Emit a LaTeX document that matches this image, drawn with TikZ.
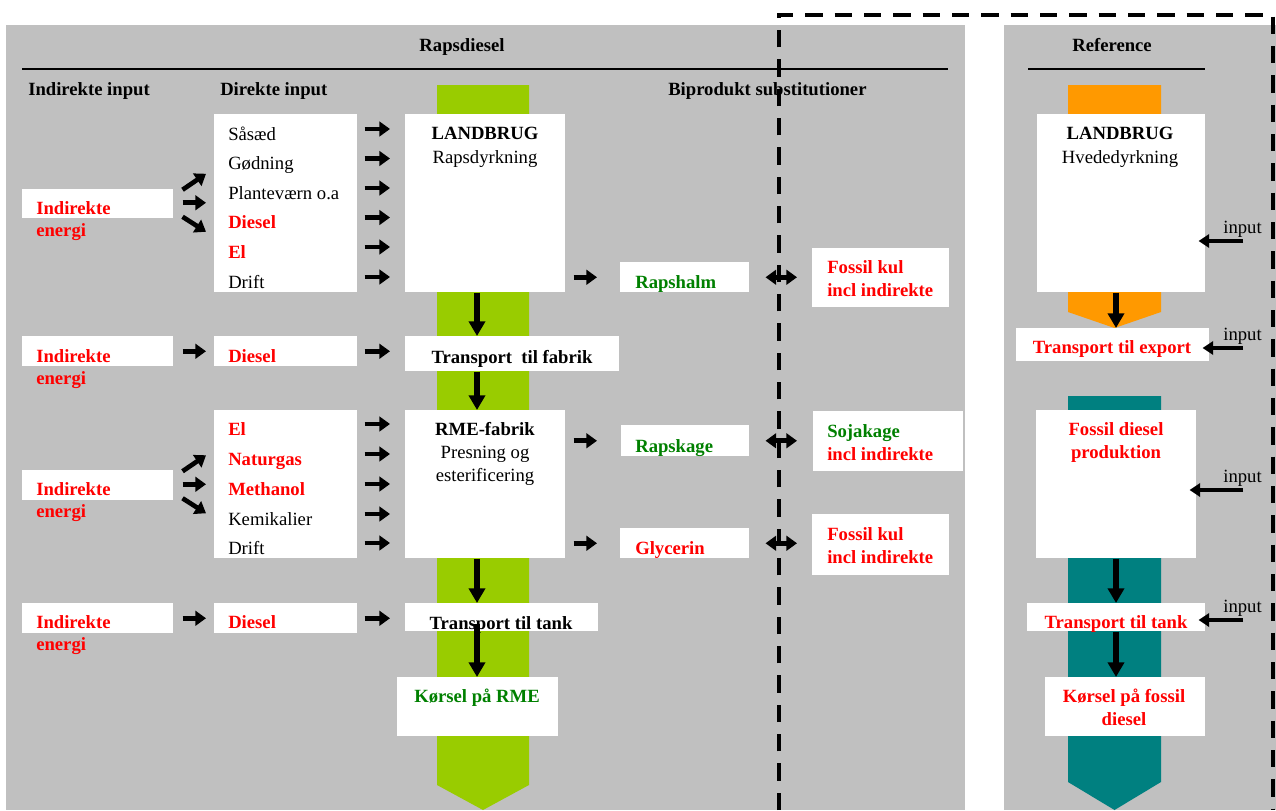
\documentclass[tikz,border=0pt]{standalone}
\usepackage{fontspec}
\setmainfont{Liberation Serif}
\usepackage{tikz}
\usetikzlibrary{arrows.meta, calc}
\definecolor{panelgray}{HTML}{C0C0C0}
\definecolor{rapsgreen}{HTML}{99CC00}
\definecolor{refsorange}{HTML}{FF9900}
\definecolor{fossilteal}{HTML}{008080}
\definecolor{txtgreen}{HTML}{008000}
\definecolor{txtred}{HTML}{FF0000}

\begin{document}
\begin{tikzpicture}[x=0.75pt, y=-0.75pt,
    box/.style={fill=white, inner sep=0pt, anchor=north west},
    txt/.style={inner sep=0pt, anchor=base west, font=\fontsize{14}{17}\selectfont},
    btxt/.style={txt, font=\fontsize{14}{17}\selectfont\bfseries},
    redtxt/.style={btxt, text=txtred},
    grntxt/.style={btxt, text=txtgreen},
    arr/.style={-{Triangle[length=8pt, width=11pt]}, line width=3.5pt},
    darr/.style={{Triangle[length=8pt, width=11pt]}-{Triangle[length=8pt, width=11pt]}, line width=3.5pt},
    varr/.style={-{Triangle[length=11pt, width=12pt]}, line width=4pt},
    inarr/.style={-{Triangle[length=8pt, width=10pt]}, line width=3pt}]
    \useasboundingbox (0,0) rectangle (1276,810);

    % Panels and flow bands
    \fill[panelgray] (6,25) rectangle (965,810);
    \fill[panelgray] (1004,25) rectangle (1276,810);
    \fill[rapsgreen] (437,85) -- (529,85) -- (529,785) -- (483,810) -- (437,785) -- cycle;
    \fill[refsorange] (1068,85) -- (1161,85) -- (1161,312) -- (1114.5,328) -- (1068,312) -- cycle;
    \fill[fossilteal] (1068,396) -- (1161,396) -- (1161,782) -- (1114.5,810) -- (1068,782) -- cycle;

    % Headings
    \node[btxt, anchor=base] (rapsdiesel) at (462,51) {Rapsdiesel};
    \node[btxt, anchor=base] (reference) at (1112,51) {Reference};
    \draw[line width=1pt] (22,69) -- (948,69);
    \draw[line width=1pt] (1028,69) -- (1205,69);
    \node[btxt] (hindirekte) at (28,95) {Indirekte input};
    \node[btxt] (hdirekte) at (220,95) {Direkte input};
    \node[btxt] (hbiprodukt) at (668,95) {Biprodukt substitutioner};

    % Boxes
    \node[box, minimum width=107.25pt, minimum height=133.5pt] (direkte1) at (214,114) {};
    \node[box, minimum width=120pt, minimum height=133.5pt] (landbrug) at (405,114) {};
    \node[box, minimum width=113.25pt, minimum height=21.75pt] (indirekte1) at (22,189) {};
    \node[box, minimum width=96.75pt, minimum height=22.5pt] (rapshalm) at (620,262) {};
    \node[box, minimum width=102.75pt, minimum height=44.25pt] (fossilkul1) at (812,248) {};
    \node[box, minimum width=113.25pt, minimum height=22.5pt] (indirekte2) at (22,336) {};
    \node[box, minimum width=107.25pt, minimum height=22.5pt] (diesel2) at (214,336) {};
    \node[box, minimum width=160.5pt, minimum height=26.25pt] (tilfabrik) at (405,336) {};
    \node[box, minimum width=107.25pt, minimum height=111pt] (direkte3) at (214,410) {};
    \node[box, minimum width=120pt, minimum height=111pt] (rmefabrik) at (405,410) {};
    \node[box, minimum width=113.25pt, minimum height=22.5pt] (indirekte3) at (22,470) {};
    \node[box, minimum width=96pt, minimum height=23.25pt] (rapskage) at (621,425) {};
    \node[box, minimum width=112.5pt, minimum height=45pt] (sojakage) at (813,411) {};
    \node[box, minimum width=96.75pt, minimum height=22.5pt] (glycerin) at (620,528) {};
    \node[box, minimum width=102.75pt, minimum height=45.75pt] (fossilkul2) at (812,514) {};
    \node[box, minimum width=113.25pt, minimum height=22.5pt] (indirekte4) at (22,603) {};
    \node[box, minimum width=107.25pt, minimum height=22.5pt] (diesel4) at (214,603) {};
    \node[box, minimum width=144.75pt, minimum height=21pt] (tiltank) at (405,603) {};
    \node[box, minimum width=120.75pt, minimum height=44.25pt] (korsel) at (397,677) {};
    \node[box, minimum width=126pt, minimum height=133.5pt] (landbrugR) at (1037,114) {};
    \node[box, minimum width=144.75pt, minimum height=24.75pt] (tilexport) at (1016,328) {};
    \node[box, minimum width=120pt, minimum height=111pt] (fossildiesel) at (1036,410) {};
    \node[box, minimum width=133.5pt, minimum height=21pt] (tiltankR) at (1027,603) {};
    \node[box, minimum width=120pt, minimum height=44.25pt] (korselR) at (1045,677) {};

    % Texts
    \foreach \n/\y/\t/\s in {saa/140/Såsæd/txt, god/169.5/Gødning/txt, pla/199/Planteværn o.a/txt,
        dsl/228.5/Diesel/redtxt, elx/258/El/redtxt, drf/288/Drift/txt,
        el3/435/El/redtxt, nat3/465/Naturgas/redtxt, met3/495/Methanol/redtxt,
        kem3/525/Kemikalier/txt, drf3/554/Drift/txt}
        \node[\s] (\n) at (228,\y) {\t};
    \foreach \n/\y in {1/214, 2/362, 3/495, 4/628} {
        \node[redtxt] (ind\n a) at (36,\y) {Indirekte};
        \node[redtxt] (ind\n b) at (36,\y+22.5) {energi};
    }
    \node[redtxt] (dsl2) at (228,362) {Diesel};
    \node[redtxt] (dsl4) at (228,628) {Diesel};
    \node[btxt, anchor=base] (landbruga) at (485,139) {LANDBRUG};
    \node[txt, anchor=base] (landbrugb) at (485,163) {Rapsdyrkning};
    \node[btxt, anchor=base] (tilfabrika) at (512,363) {Transport\ \ til fabrik};
    \node[btxt, anchor=base] (rmea) at (485,435) {RME-fabrik};
    \node[txt, anchor=base] (rmeb) at (485,458) {Presning og};
    \node[txt, anchor=base] (rmec) at (485,481) {esterificering};
    \node[btxt, anchor=base] (tiltanka) at (501,629) {Transport til tank};
    \node[grntxt, anchor=base] (korsela) at (477,702) {Kørsel på RME};
    \node[grntxt] (rapshalma) at (635,288) {Rapshalm};
    \node[grntxt] (rapskagea) at (635,452) {Rapskage};
    \node[redtxt] (glycerina) at (635,554) {Glycerin};
    \node[redtxt] (fossil1a) at (827,273) {Fossil kul};
    \node[redtxt] (fossil1b) at (827,296) {incl indirekte};
    \node[grntxt] (sojaa) at (827,437) {Sojakage};
    \node[redtxt] (sojab) at (827,460) {incl indirekte};
    \node[redtxt] (fossil2a) at (827,540) {Fossil kul};
    \node[redtxt] (fossil2b) at (827,563) {incl indirekte};
    \node[btxt, anchor=base] (landbrugRa) at (1120,139) {LANDBRUG};
    \node[txt, anchor=base] (landbrugRb) at (1120,163) {Hvededyrkning};
    \node[redtxt, anchor=base] (tilexporta) at (1112,353) {Transport til export};
    \node[redtxt, anchor=base] (fossilda) at (1116,435) {Fossil diesel};
    \node[redtxt, anchor=base] (fossildb) at (1116,458) {produktion};
    \node[redtxt, anchor=base] (tiltankRa) at (1116,628) {Transport til tank};
    \node[redtxt, anchor=base] (korselRa) at (1124,702) {Kørsel på fossil};
    \node[redtxt, anchor=base] (korselRb) at (1124,725) {diesel};
    \foreach \n/\y in {1/233, 2/340, 3/482, 4/612}
        \node[txt, anchor=base east] (input\n) at (1262,\y) {input};

    % Connections
    \foreach \n in {saa,god,pla,dsl,elx,drf}
        \draw[arr] ($(direkte1.east |- \n.base)+(7,-11)$) -- ($(landbrug.west |- \n.base)+(-15,-11)$);
    \foreach \n in {el3,nat3,met3,kem3,drf3}
        \draw[arr] ($(direkte3.east |- \n.base)+(7,-11)$) -- ($(rmefabrik.west |- \n.base)+(-15,-11)$);
    \foreach \i/\d in {indirekte1/direkte1, indirekte3/direkte3} {
        \draw[arr] ($(\i.east)+(9,-14)$) -- ($(\d.west |- \i.east)+(-8,-30)$);
        \draw[arr] ($(\i.east)+(9,-1)$) -- ($(\d.west |- \i.east)+(-8,-1)$);
        \draw[arr] ($(\i.east)+(9,13)$) -- ($(\d.west |- \i.east)+(-8,28)$);
    }
    \draw[arr] ($(indirekte2.east)+(9,0)$) -- ($(diesel2.west)+(-8,0)$);
    \draw[arr] ($(diesel2.east)+(7,0)$) -- ($(tilfabrik.west |- diesel2.east)+(-15,0)$);
    \draw[arr] ($(indirekte4.east)+(9,0)$) -- ($(diesel4.west)+(-8,0)$);
    \draw[arr] ($(diesel4.east)+(7,0)$) -- ($(tiltank.west |- diesel4.east)+(-15,0)$);
    \draw[arr] ($(landbrug.east |- rapshalm.west)+(8,0)$) -- ($(rapshalm.west)+(-23,0)$);
    \draw[arr] ($(rmefabrik.east |- rapskage.west)+(8,0)$) -- ($(rapskage.west)+(-24,0)$);
    \draw[arr] ($(rmefabrik.east |- glycerin.west)+(8,0)$) -- ($(glycerin.west)+(-23,0)$);
    \draw[darr] ($(rapshalm.east)+(16,0)$) -- ($(fossilkul1.west |- rapshalm.east)+(-15,0)$);
    \draw[darr] ($(rapskage.east)+(16,0)$) -- ($(sojakage.west |- rapskage.east)+(-16,0)$);
    \draw[darr] ($(glycerin.east)+(16,0)$) -- ($(fossilkul2.west |- glycerin.east)+(-15,0)$);

    \coordinate (raps) at (477,0);
    \coordinate (refs) at (1116,0);
    \draw[varr] (landbrug.south -| raps) -- (tilfabrik.north -| raps);
    \draw[varr] (tilfabrik.south -| raps) -- (rmefabrik.north -| raps);
    \draw[varr] (rmefabrik.south -| raps) -- (tiltank.north -| raps);
    \draw[varr] ($(tiltank.south -| raps)+(0,-8)$) -- (korsel.north -| raps);
    \draw[varr] (landbrugR.south -| refs) -- (tilexport.north -| refs);
    \draw[varr] (fossildiesel.south -| refs) -- (tiltankR.north -| refs);
    \draw[varr] (tiltankR.south -| refs) -- (korselR.north -| refs);

    \foreach \n/\b in {1/landbrugR, 2/tilexport, 3/fossildiesel, 4/tiltankR}
        \draw[inarr] ($(input\n.base east)+(-19,8)$) -- ($(\b.east |- input\n.base)+(-7,8)$);

    % System boundary
    \draw[line width=3pt, dash pattern=on 13pt off 9pt] (779,810) -- (779,15) -- (1273,15) -- (1273,810);
\end{tikzpicture}
\end{document}
